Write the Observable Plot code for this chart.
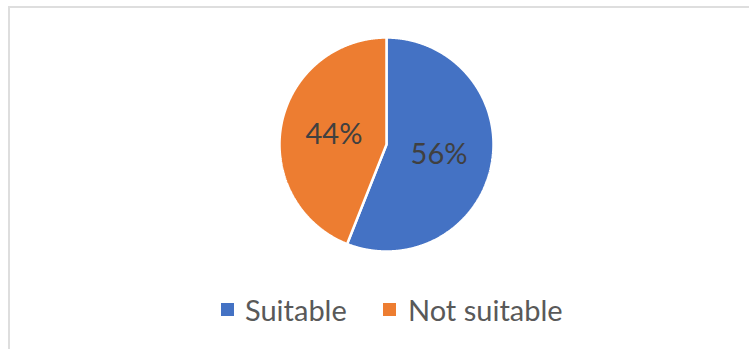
<!DOCTYPE html>
<html>
<head>
<meta charset="utf-8">
<script src="https://cdn.jsdelivr.net/npm/d3@7"></script>
<script src="https://cdn.jsdelivr.net/npm/@observablehq/plot@0.6"></script>
<style>
  html, body { margin: 0; padding: 0; background: #fff; }
  #wrap { position: relative; width: 749px; height: 349px; overflow: hidden; font-family: Lato, "Open Sans", sans-serif; }
  #frame { position: absolute; left: 8px; top: 6px; width: 800px; height: 400px; border-left: 2px solid #dedede; border-top: 2px solid #dedede; box-sizing: border-box; }
  #chart { position: absolute; left: 0; top: 0; }
  #legend { position: absolute; left: 0; top: 290px; width: 749px; height: 40px; }
  .sw { position: absolute; width: 13px; height: 13px; top: 13px; }
  .lt { position: absolute; top: 0px; font-size: 29px; line-height: 40px; color: #595959; white-space: nowrap; }
</style>
</head>
<body>
<div id="wrap">
  <div id="frame"></div>
  <div id="chart"></div>
  <div id="legend"></div>
</div>
<script>
const categories = ["Suitable", "Not suitable"];
const values = [56, 44];
const pctLabels = ["56%", "44%"];
const colors = ["#4472C4", "#ED7D31"];

const W = 749, H = 290;
const cx = 386, cy = 144, R = 107; // pixel geometry of the pie

const arcs = d3.pie().sort(null)(values);
const slicePts = [];
arcs.forEach((a, i) => {
  slicePts.push({cat: categories[i], x: 0, y: 0});
  const steps = Math.ceil((a.endAngle - a.startAngle) / 0.005);
  for (let k = 0; k <= steps; k++) {
    const t = a.startAngle + (a.endAngle - a.startAngle) * k / steps;
    slicePts.push({cat: categories[i], x: Math.sin(t), y: Math.cos(t)});
  }
  slicePts.push({cat: categories[i], x: 0, y: 0});
});
const labelPts = arcs.map((a, i) => {
  const m = (a.startAngle + a.endAngle) / 2;
  return {label: pctLabels[i], x: 0.5 * Math.sin(m), y: 0.5 * Math.cos(m)};
});

const plot = Plot.plot({
  width: W, height: H,
  margin: 0,
  x: {domain: [-cx / R, (W - cx) / R], axis: null},
  y: {domain: [-(H - cy) / R, cy / R], axis: null},
  color: {domain: categories, range: colors},
  style: {fontFamily: "Lato, 'Open Sans', sans-serif", background: "transparent"},
  marks: [
    Plot.line(slicePts, {x: "x", y: "y", z: "cat", fill: "cat", stroke: "white", strokeWidth: 2.5, strokeLinejoin: "miter"}),
    Plot.text(labelPts, {x: "x", y: "y", text: "label", fill: "#404040", fontSize: 29})
  ]
});
document.getElementById("chart").appendChild(plot);

const color = plot.scale("color");
const legend = document.getElementById("legend");
const swLeft = [221, 383], txLeft = [245, 408];
categories.forEach((c, i) => {
  const s = document.createElement("div");
  s.className = "sw";
  s.style.left = swLeft[i] + "px";
  s.style.background = color.apply(c);
  legend.appendChild(s);
  const t = document.createElement("div");
  t.className = "lt";
  t.style.left = txLeft[i] + "px";
  t.textContent = c;
  legend.appendChild(t);
});
</script>
</body>
</html>
